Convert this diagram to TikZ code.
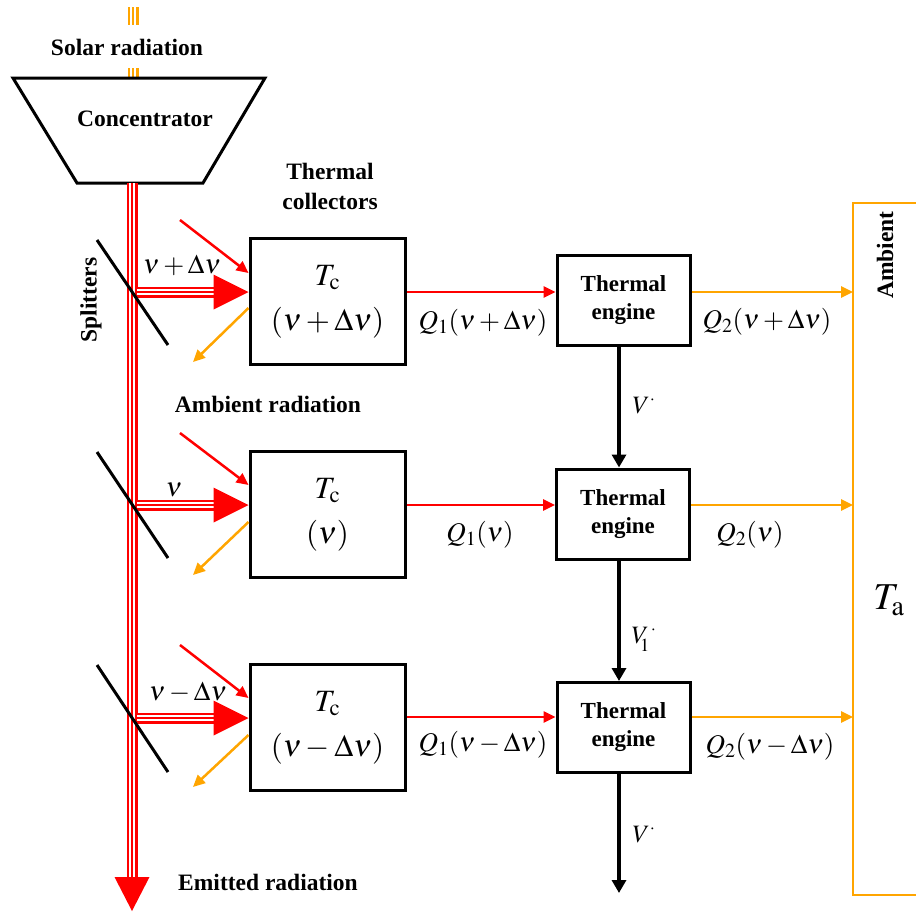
\documentclass[tikz,border=0pt]{standalone}
\usepackage{mathptmx}
\usepackage{fontspec}
\setmainfont{Liberation Serif}
\usetikzlibrary{arrows.meta,calc}
\definecolor{sred}{RGB}{255,0,0}
\definecolor{sorange}{RGB}{255,165,0}
\newcommand{\beam}[3]{%
  \draw[#1, line width=11pt] (#2) -- (#3);
  \draw[white, line width=6.6pt] (#2) -- (#3);
  \draw[#1, line width=2.2pt] (#2) -- (#3);}
\begin{document}
\begin{tikzpicture}[x=1pt,y=-1pt,
  bold/.style={font=\fontsize{23.5}{30}\selectfont\bfseries, align=center, inner sep=0pt},
  mth/.style={font=\fontsize{27}{30}\selectfont, inner sep=0pt},
  collector/.style={draw, line width=3pt, minimum width=155pt, minimum height=126pt, inner sep=0pt,
    font=\fontsize{31}{45}\selectfont, align=center},
  engine/.style={draw, line width=3pt, minimum width=133pt, minimum height=90pt, inner sep=0pt,
    font=\fontsize{23}{28}\selectfont\bfseries, align=center},
  redray/.style={draw=sred, line width=2.5pt, -{Triangle[length=12pt,width=11pt]}},
  orray/.style={draw=sorange, line width=2.5pt, -{Triangle[length=12pt,width=11pt]}},
  work/.style={draw=black, line width=4pt, -{Triangle[length=13pt,width=14pt]}},
  splitter/.style={draw=black, line width=3pt},
  wlbl/.style={font=\fontsize{25}{27}\selectfont, inner sep=0pt},
]
\useasboundingbox (0,0) rectangle (916,913);

% solar radiation
\coordinate (sun1) at (133,7);
\coordinate (sun2) at (133,25);
\coordinate (sun3) at (133,68);
\coordinate (sun4) at (133,79);
\beam{sorange}{sun1}{sun2}
\beam{sorange}{sun3}{sun4}
\node[bold] (solar) at (127,47) {Solar radiation};

% concentrator
\draw[line width=3pt, line join=miter, fill=white] (13,78) -- (265,78) -- (203,183) -- (77,183) -- cycle;
\node[bold] (conc) at (145,119) {Concentrator};
\coordinate (concb) at (132,183);

% main beam
\coordinate (emit) at (132,911);
\coordinate (emitb) at (132,877);
\beam{sred}{concb}{emitb}
\fill[sred] ($(emit)+(-17.5,-34)$) -- (emit) -- ($(emit)+(17.5,-34)$) -- cycle;

% collectors
\node[collector] (c1) at (327.5,301.5) {$T_{\mathrm{c}}$\\$(\nu+\Delta\nu)$};
\node[collector] (c2) at (327.5,514.5) {$T_{\mathrm{c}}$\\$(\nu)$};
\node[collector] (c3) at (327.5,727.5) {$T_{\mathrm{c}}$\\$(\nu-\Delta\nu)$};

% split points and beams
\foreach \i/\y in {1/292,2/505,3/718}{
  \coordinate (s\i) at (132,\y);
  \coordinate (b\i) at (137,\y);
  \coordinate (t\i) at (c\i.west |- s\i);
  \coordinate (h\i) at ($(t\i)+(-34,0)$);
  \beam{sred}{b\i}{h\i}
  \fill[sred] ($(t\i)+(-35,-17.5)$) -- (t\i) -- ($(t\i)+(-35,17.5)$) -- cycle;
}

% splitters
\coordinate (sp1a) at (97,240);  \coordinate (sp1b) at (168,345);
\coordinate (sp2a) at (97,452);  \coordinate (sp2b) at (168,558);
\coordinate (sp3a) at (97,665);  \coordinate (sp3b) at (168,772);
\draw[splitter] (sp1a) -- (sp1b);
\draw[splitter] (sp2a) -- (sp2b);
\draw[splitter] (sp3a) -- (sp3b);

\node[mth] (n1) at (182,265) {$\nu+\Delta\nu$};
\node[mth] (n2) at (174,490) {$\nu$};
\node[mth] (n3) at (188,692) {$\nu-\Delta\nu$};

% ambient radiation in/out
\coordinate (ain1) at (180,220);  \coordinate (aout1) at (193,362);
\coordinate (ain2) at (180,433);  \coordinate (aout2) at (193,575);
\coordinate (ain3) at (180,645);  \coordinate (aout3) at (193,787);
\draw[redray] (ain1) -- (c1.west |- 0,273);
\draw[redray] (ain2) -- (c2.west |- 0,485);
\draw[redray] (ain3) -- (c3.west |- 0,698);
\draw[orray] (c1.west |- 0,308) -- (aout1);
\draw[orray] (c2.west |- 0,522) -- (aout2);
\draw[orray] (c3.west |- 0,735) -- (aout3);

% labels
\node[bold] (coll) at (330,186) {Thermal\\collectors};
\node[bold] (ambrad) at (268,404) {Ambient radiation};
\node[bold, rotate=90] (split) at (91,300) {Splitters};
\node[bold] (emitted) at (268,882) {Emitted radiation};

% engines
\node[engine] (e1) at (623.5,300) {Thermal\\engine};
\node[engine] (e2) at (623,514) {Thermal\\engine};
\node[engine] (e3) at (623.5,727.5) {Thermal\\engine};

% Q1 arrows
\draw[redray] (c1.east |- s1) -- (e1.west |- s1);
\draw[redray] (c2.east |- s2) -- (e2.west |- s2);
\draw[redray] (c3.east |- 0,717) -- (e3.west |- 0,717);
\node[mth] (q11) at (483,323) {$Q_1(\nu+\Delta\nu)$};
\node[mth] (q12) at (480,535) {$Q_1(\nu)$};
\node[mth] (q13) at (483,745) {$Q_1(\nu-\Delta\nu)$};

% ambient
\coordinate (ambL) at (853,500);
\draw[sorange, line width=2.5pt, line join=miter] (916,203) -- (853,203) -- (853,895) -- (916,895);
\node[bold, rotate=90] (amb) at (885,255) {Ambient};
\node[font=\fontsize{38}{40}\selectfont, inner sep=0pt] (ta) at (889,600) {$T_{\mathrm{a}}$};

% Q2 arrows
\draw[orray] (e1.east |- s1) -- (ambL |- s1);
\draw[orray] (e2.east |- s2) -- (ambL |- s2);
\draw[orray] (e3.east |- 0,717) -- (ambL |- 0,717);
\node[mth] (q21) at (767,322) {$Q_2(\nu+\Delta\nu)$};
\node[mth] (q22) at (750,535) {$Q_2(\nu)$};
\node[mth] (q23) at (770,747) {$Q_2(\nu-\Delta\nu)$};

% work
\coordinate (wx) at (619,0);
\coordinate (wout) at (619,893);
\draw[work] (e1.south -| wx) -- (e2.north -| wx);
\draw[work] (e2.south -| wx) -- (e3.north -| wx);
\draw[work] (e3.south -| wx) -- (wout);
\node[wlbl] (w1) at (644,405) {$V^{\cdot}$};
\node[wlbl] (w2) at (644,639) {$V_{\!\!1}^{\,\cdot}$};
\node[wlbl] (w3) at (644,834) {$V^{\cdot}$};
\end{tikzpicture}
\end{document}
